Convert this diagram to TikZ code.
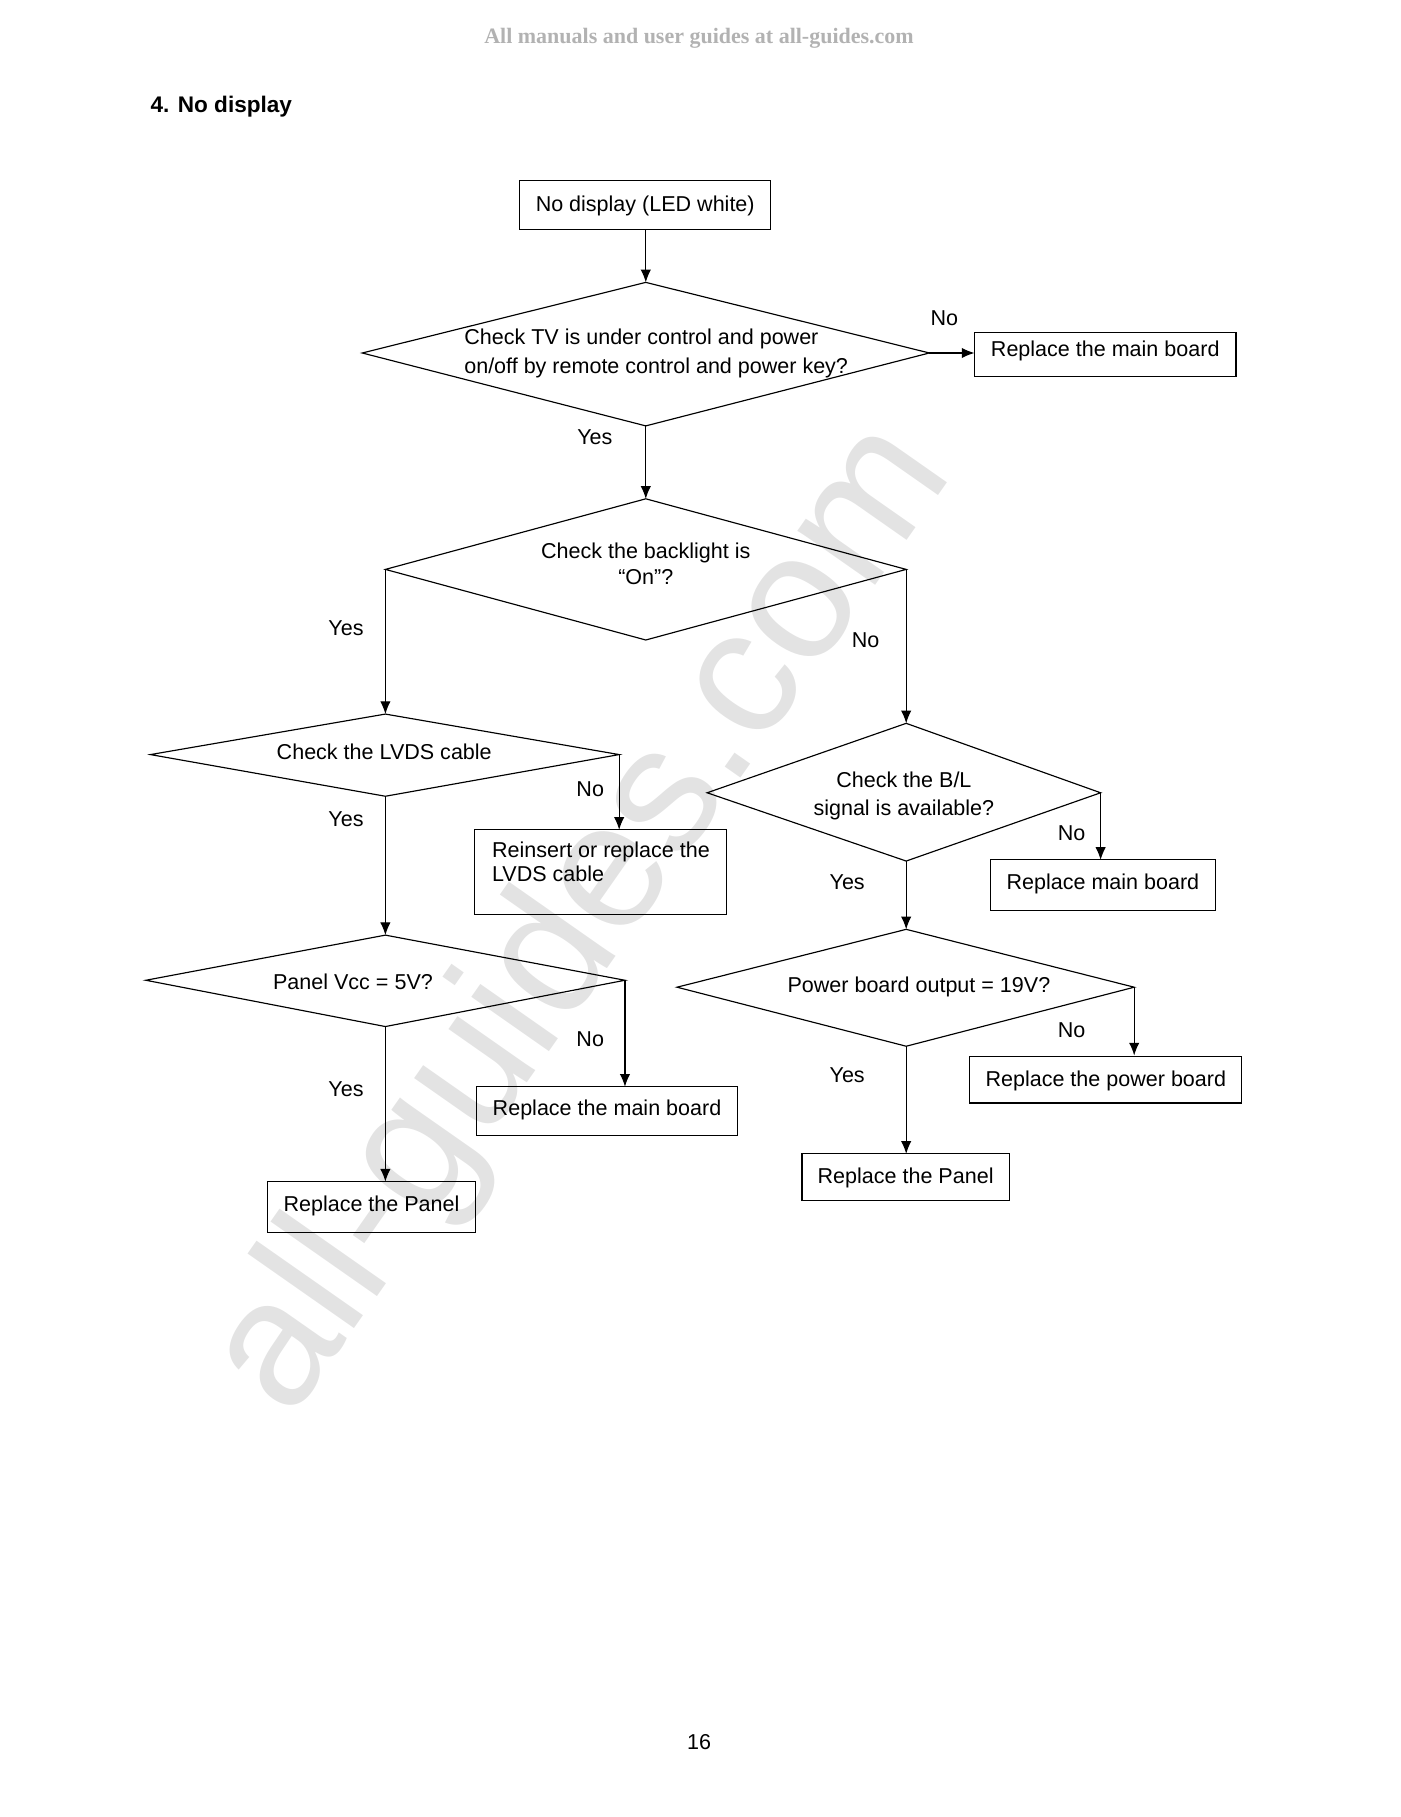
\documentclass[tikz,border=0pt]{standalone}
\usepackage{fontspec}
\setmainfont{Liberation Sans}
\newfontfamily\hdrfont{Liberation Serif}
\usetikzlibrary{arrows.meta}
\begin{document}
\begin{tikzpicture}[x=1pt,y=-1pt,
  every node/.style={font=\fontsize{18.6}{22}\selectfont, inner sep=0pt},
  box/.style={draw, line width=1pt},
  dia/.style={draw, line width=1pt},
  arr/.style={draw, line width=1pt, -{Latex[length=11pt,width=9pt]}}]
\useasboundingbox (0,0) rectangle (1210,1570);
% watermark
\node[text=black!11, font=\fontsize{155}{155}\selectfont, rotate=55] (wm) at (505,795) {all-guides.com};
\node[text=black!30, font=\hdrfont\bfseries\fontsize{19}{22}\selectfont] (hdr) at (604,33) {All manuals and user guides at all-guides.com};
\node[anchor=west, font=\bfseries\fontsize{19.5}{22}\selectfont] (title) at (130,92) {4. No display};
\node (page) at (604,1505) {16};

% box 1
\draw[box] (449,156) rectangle (666,198);
\node (b1) at (557.5,178) {No display (LED white)};
\coordinate (b1s) at (558,198);
% D1
\coordinate (d1l) at (313,305); \coordinate (d1t) at (558,244);
\coordinate (d1r) at (803,305); \coordinate (d1b) at (558,368);
\draw[dia] (d1l)--(d1t)--(d1r)--(d1b)--cycle;
\node[align=left, anchor=west] (d1) at (401,305) {Check TV is under control and power\\[3pt]on/off by remote control and power key?};
\draw[box] (842,287) rectangle (1068,325);
\node (r1) at (955,303) {Replace the main board};
\coordinate (r1w) at (842,305);
\node (n1) at (816,275) {No};
\node (y1) at (514,378) {Yes};
\draw[arr] (b1s)--(d1t);
\draw[arr] (d1r)--(r1w);
% D2
\coordinate (d2l) at (333,492); \coordinate (d2t) at (558,431);
\coordinate (d2r) at (783,492); \coordinate (d2b) at (558,553);
\draw[dia] (d2l)--(d2t)--(d2r)--(d2b)--cycle;
\node (d2a) at (558,478) {Check the backlight is};
\node (d2c) at (558,499) {“On”?};
\draw[arr] (d1b)--(d2t);
\node (y2) at (299,543) {Yes};
\node (n2) at (748,553) {No};
% D3
\coordinate (d3l) at (130,652); \coordinate (d3t) at (333,617);
\coordinate (d3r) at (535,652); \coordinate (d3b) at (333,688);
\draw[dia] (d3l)--(d3t)--(d3r)--(d3b)--cycle;
\node (d3) at (332,650) {Check the LVDS cable};
\draw[arr] (d2l)--(d3t);
\node (n3) at (510,682) {No};
\node (y3) at (299,708) {Yes};
\draw[box] (410,717) rectangle (628,790);
\node[align=left, anchor=north west] (r3) at (425,727) {Reinsert or replace the\\[-1pt]LVDS cable};
\coordinate (r3n) at (535,717);
\draw[arr] (d3r)--(r3n);
% D4
\coordinate (d4l) at (126,847); \coordinate (d4t) at (333,808);
\coordinate (d4r) at (540,847); \coordinate (d4b) at (333,887);
\draw[dia] (d4l)--(d4t)--(d4r)--(d4b)--cycle;
\node (d4) at (305,848) {Panel Vcc = 5V?};
\draw[arr] (d3b)--(d4t);
\node (n4) at (510,898) {No};
\node (y4) at (299,941) {Yes};
\draw[box] (412,939) rectangle (637,981);
\node (r4) at (524.5,959) {Replace the main board};
\coordinate (r4n) at (540,939);
\draw[arr] (d4r)--(r4n);
\draw[box] (231,1021) rectangle (411,1065);
\node (r5) at (321,1042) {Replace the Panel};
\coordinate (r5n) at (333,1021);
\draw[arr] (d4b)--(r5n);
% D5
\coordinate (d5l) at (611,685); \coordinate (d5t) at (783,625);
\coordinate (d5r) at (951,685); \coordinate (d5b) at (783,744);
\draw[dia] (d5l)--(d5t)--(d5r)--(d5b)--cycle;
\node (d5a) at (781,674) {Check the B/L};
\node (d5c) at (781,700) {signal is available?};
\draw[arr] (d2r)--(d5t);
\node (n5) at (926,720) {No};
\node (y5) at (732,762) {Yes};
\draw[box] (856,743) rectangle (1050,787);
\node (r6) at (953,764) {Replace main board};
\coordinate (r6n) at (951,743);
\draw[arr] (d5r)--(r6n);
% D6
\coordinate (d6l) at (585,853); \coordinate (d6t) at (783,803);
\coordinate (d6r) at (980,853); \coordinate (d6b) at (783,904);
\draw[dia] (d6l)--(d6t)--(d6r)--(d6b)--cycle;
\node (d6) at (794,853) {Power board output = 19V?};
\draw[arr] (d5b)--(d6t);
\node (n6) at (926,890) {No};
\node (y6) at (732,929) {Yes};
\draw[box] (838,913) rectangle (1073,953);
\node (r7) at (955.5,934) {Replace the power board};
\coordinate (r7n) at (980,912);
\draw[arr] (d6r)--(r7n);
\draw[box] (693,997) rectangle (872,1037);
\node (r8) at (782.5,1018) {Replace the Panel};
\coordinate (r8n) at (783,997);
\draw[arr] (d6b)--(r8n);
\end{tikzpicture}
\end{document}
